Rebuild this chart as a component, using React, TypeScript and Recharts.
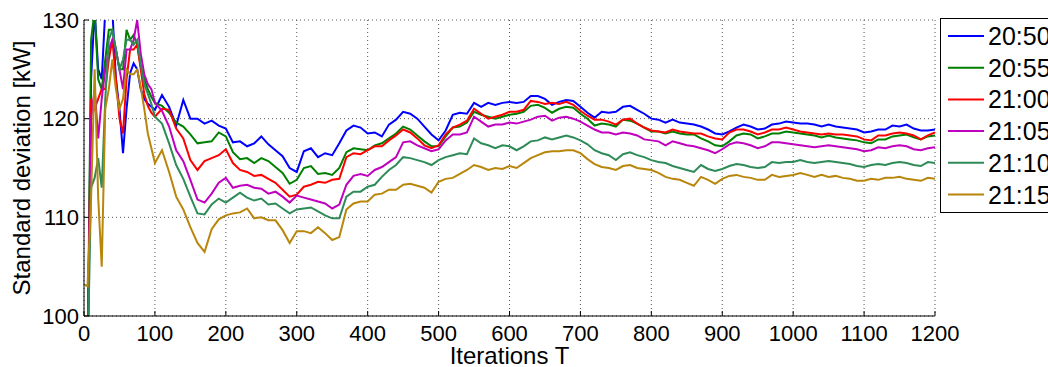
import { LineChart, Line, XAxis, YAxis, CartesianGrid } from "recharts";

// iteration index for every sample (denser at the start, where the curves jump)
const iters = [
  0, 5, 10, 15, 20, 25, 30, 35, 40, 45, 50, 55, 60, 65, 70, 75, 80, 85, 90, 95, 100,
  110, 120, 130, 140, 150, 160, 170, 180, 190, 200,
  210, 220, 230, 240, 250, 260, 270, 280, 290, 300,
  310, 320, 330, 340, 350, 360, 370, 380, 390, 400,
  410, 420, 430, 440, 450, 460, 470, 480, 490, 500,
  510, 520, 530, 540, 550, 560, 570, 580, 590, 600,
  610, 620, 630, 640, 650, 660, 670, 680, 690, 700,
  710, 720, 730, 740, 750, 760, 770, 780, 790, 800,
  810, 820, 830, 840, 850, 860, 870, 880, 890, 900,
  910, 920, 930, 940, 950, 960, 970, 980, 990, 1000,
  1010, 1020, 1030, 1040, 1050, 1060, 1070, 1080, 1090, 1100,
  1110, 1120, 1130, 1140, 1150, 1160, 1170, 1180, 1190, 1200,
];

const s2050 = [
  95, 95, 124, 131, 125, 124, 131, 131, 131, 124, 121, 116.5, 121, 124.6, 125.6, 125, 123, 122, 121.5, 121.2, 120.9,
  122.4, 121.2, 119.3, 121.9, 120.0, 120.0, 119.5, 119.8, 119.3, 119.0,
  117.6, 117.7, 117.2, 117.5, 118.2, 117.4, 116.8, 116.2, 115.0, 114.6,
  116.7, 117.0, 116.1, 116.5, 116.3, 117.5, 118.8, 119.3, 119.1, 118.5,
  118.6, 118.2, 119.4, 119.9, 120.7, 120.5, 120.0, 119.2, 118.4, 117.8,
  118.8, 120.4, 120.6, 120.5, 121.6, 121.2, 121.6, 121.4, 121.6, 121.7,
  121.6, 121.7, 122.3, 122.3, 122.0, 121.4, 121.7, 121.9, 121.8, 121.2,
  120.6, 120.1, 120.7, 120.6, 120.7, 121.2, 121.3, 120.9, 120.5, 120.0,
  119.9, 119.6, 119.9, 119.6, 119.5, 119.4, 119.2, 118.9, 118.5, 118.4,
  118.7, 119.1, 119.4, 119.2, 118.9, 119.0, 119.4, 119.5, 119.7, 119.6,
  119.5, 119.5, 119.4, 119.2, 119.4, 119.2, 119.1, 119.0, 118.9, 118.6,
  118.7, 118.9, 118.9, 119.3, 119.2, 119.4, 119.0, 118.8, 118.8, 118.9,
];

const s2055 = [
  95, 95, 128, 131, 124, 123, 126, 129, 129, 127, 125, 125, 129, 128, 128.5, 127.5, 125.3, 124, 123, 122.2, 121.6,
  121.3, 120.6, 119.6, 119.2, 118.4, 117.5, 117.6, 117.7, 118.6, 118.2,
  116.6, 115.9, 116.0, 115.5, 116.0, 115.7, 115.1, 114.5, 113.4, 113.8,
  115.0, 115.2, 114.4, 114.5, 114.3, 115.0, 116.6, 117.0, 116.9, 116.8,
  117.3, 117.5, 118.0, 118.5, 119.2, 118.9, 118.3, 117.7, 117.2, 117.2,
  118.2, 119.1, 119.2, 119.6, 120.7, 120.4, 120.2, 120.0, 120.2, 120.4,
  120.5, 120.7, 121.3, 121.4, 121.1, 120.6, 121.0, 121.2, 121.1, 120.5,
  120.0, 119.3, 119.5, 119.4, 119.2, 119.9, 119.8, 119.5, 119.1, 118.7,
  118.7, 118.5, 118.7, 118.5, 118.4, 118.4, 118.0, 117.7, 117.3, 117.2,
  117.7, 118.3, 118.5, 118.4, 118.0, 118.2, 118.5, 118.5, 118.7, 118.6,
  118.5, 118.4, 118.3, 118.1, 118.3, 118.1, 118.0, 117.9, 117.8, 117.6,
  117.5, 117.9, 117.9, 118.2, 118.3, 118.4, 118.1, 117.9, 118.2, 118.3,
];

const s2100 = [
  95, 95, 122, 121, 122, 123, 123, 126, 128, 124, 120, 118.5, 124, 127, 127, 127.5, 125, 122.5, 121.3, 120.6, 120.2,
  121.0, 120.9, 119.0, 118.0, 115.8, 114.8, 115.7, 116.0, 116.3, 116.9,
  115.5, 114.8, 114.6, 114.2, 114.3, 113.9, 113.5, 112.8, 112.1, 112.3,
  113.1, 113.3, 113.6, 113.5, 113.8, 113.9, 116.1, 116.5, 116.4, 116.8,
  117.2, 117.2, 117.8, 118.3, 118.9, 118.6, 118.0, 117.3, 117.0, 117.3,
  118.4, 119.1, 119.4, 119.8, 121.0, 120.5, 120.0, 120.2, 120.4, 120.7,
  120.7, 120.9, 121.8, 121.7, 121.5, 121.6, 121.5, 121.7, 121.4, 120.8,
  120.3, 119.9, 119.9, 119.7, 119.4, 119.9, 120.0, 119.5, 119.1, 118.8,
  118.7, 118.6, 118.9, 118.7, 118.6, 118.5, 118.5, 118.2, 118.0, 117.9,
  118.6, 118.9, 118.9, 118.7, 118.4, 118.6, 118.9, 118.9, 119.1, 118.9,
  118.7, 118.6, 118.5, 118.4, 118.5, 118.4, 118.4, 118.3, 118.2, 117.9,
  117.8, 118.3, 118.3, 118.5, 118.6, 118.5, 118.3, 117.9, 118.3, 118.6,
];

const s2105 = [
  95, 95, 120, 123, 118, 122, 125, 127, 128, 127, 125, 123, 127, 127, 128, 130, 126.6, 124.5, 123.5, 123, 121.6,
  120.8, 119.2, 116.8, 115.7, 113.8, 111.8, 111.5, 112.4, 113.5, 114.0,
  113.0, 113.2, 113.3, 113.0, 112.9, 112.4, 112.6, 112.1, 111.5, 112.2,
  112.0, 111.8, 111.6, 111.4, 110.9, 111.3, 113.3, 114.2, 114.4, 114.2,
  114.8, 115.1, 115.6, 116.1, 117.6, 117.7, 117.3, 117.0, 116.7, 116.9,
  117.8, 118.4, 118.4, 118.6, 120.2, 119.7, 119.2, 119.4, 119.4, 119.6,
  119.5, 119.7, 119.9, 120.2, 120.3, 119.8, 120.1, 120.2, 120.0, 119.7,
  119.3, 118.9, 118.6, 118.6, 118.4, 118.6, 118.5, 118.3, 117.9, 117.8,
  117.7, 117.3, 117.7, 117.5, 117.3, 117.2, 117.0, 116.8, 116.5, 116.9,
  117.4, 117.6, 117.5, 117.3, 117.0, 117.2, 117.6, 117.6, 117.5, 117.4,
  117.3, 117.2, 117.1, 117.2, 117.3, 117.2, 117.1, 117.0, 116.9, 116.7,
  116.8, 117.1, 117.0, 117.2, 117.3, 117.2, 116.9, 116.8, 117.0, 117.1,
];

const s2110 = [
  95, 95, 113, 114, 116, 113, 122, 128, 129, 127, 125, 126, 128, 128, 127.5, 128, 125.5, 123.5, 122.5, 121.5, 120.2,
  119.5, 117.5, 115.3, 113.9, 112.1, 110.4, 110.3, 111.3, 111.9, 111.5,
  112.0, 112.5, 112.0, 111.7, 111.9, 111.3, 111.4, 110.9, 110.4, 110.8,
  110.9, 111.0, 110.6, 110.2, 109.9, 109.9, 112.1, 112.6, 112.6, 113.1,
  113.3, 114.1, 114.8, 115.3, 116.1, 116.0, 115.8, 115.6, 115.3, 115.8,
  116.1, 116.3, 116.5, 116.4, 118.0, 117.5, 117.3, 117.0, 117.3, 117.2,
  116.8, 117.2, 117.7, 117.8, 118.1, 117.9, 118.1, 118.3, 118.1, 117.8,
  117.4, 116.8, 116.5, 116.3, 115.8, 116.4, 116.6, 116.3, 116.1, 115.8,
  115.6, 115.5, 115.2, 115.0, 114.8, 114.6, 115.3, 114.9, 114.7, 114.9,
  115.2, 115.4, 115.3, 115.1, 115.0, 115.1, 115.6, 115.5, 115.6, 115.6,
  115.8, 115.6, 115.5, 115.6, 115.7, 115.6, 115.5, 115.4, 115.2, 115.1,
  115.3, 115.4, 115.3, 115.5, 115.6, 115.5, 115.3, 115.2, 115.6, 115.5,
];

const s2115 = [
  103.2, 103, 112, 125, 112, 105, 121, 123, 126, 123, 121, 122, 125, 124.5, 124.5, 125, 123.2, 121, 118.5, 117, 115.5,
  116.8, 114.6, 112.1, 110.8, 109.0, 107.4, 106.5, 108.8, 109.8, 110.2,
  110.4, 110.5, 110.9, 109.9, 110.0, 109.7, 109.7, 108.7, 107.4, 108.6,
  108.6, 108.4, 109.0, 108.4, 107.7, 108.0, 110.8, 111.4, 111.6, 111.6,
  112.3, 112.4, 112.8, 112.8, 113.3, 113.4, 113.2, 113.0, 112.5, 113.6,
  113.9, 114.0, 114.4, 114.8, 115.3, 115.1, 114.8, 115.0, 114.9, 115.2,
  115.0, 115.5, 116.0, 116.3, 116.6, 116.7, 116.7, 116.8, 116.8, 116.5,
  115.9, 115.4, 115.1, 115.0, 114.8, 115.2, 115.3, 115.0, 114.9, 114.8,
  114.5, 114.1, 113.9, 113.8, 113.5, 113.2, 114.1, 113.8, 113.4, 113.9,
  114.2, 114.3, 114.1, 114.0, 113.8, 113.8, 114.3, 114.1, 114.2, 114.3,
  114.5, 114.3, 114.1, 114.3, 114.1, 114.2, 114.0, 113.9, 113.7, 113.7,
  113.9, 113.8, 114.0, 114.0, 114.1, 113.9, 113.8, 113.7, 114.0, 113.9,
];

const series = [
  { key: "t2050", label: "20:50", values: s2050, color: "#0000ff" },
  { key: "t2055", label: "20:55", values: s2055, color: "#008000" },
  { key: "t2100", label: "21:00", values: s2100, color: "#ff0000" },
  { key: "t2105", label: "21:05", values: s2105, color: "#bf00bf" },
  { key: "t2110", label: "21:10", values: s2110, color: "#2e8b57" },
  { key: "t2115", label: "21:15", values: s2115, color: "#b8860b" },
];

const xTicks = [0, 100, 200, 300, 400, 500, 600, 700, 800, 900, 1000, 1100, 1200];
const yTicks = [100, 110, 120, 130];

const rows = iters.map((it, i) => {
  const row: Record<string, number> = { it };
  series.forEach(s => { row[s.key] = s.values[i]; });
  return row;
});

const FONT = '"Liberation Sans", Arial, Helvetica, sans-serif';

const XLabel = () => (
  <text x={509.5} y={364} textAnchor="middle" fontSize={24} fill="#000" fontFamily={FONT}>
    Iterations T
  </text>
);

const YLabel = () => (
  <text x={30} y={168} transform="rotate(-90 30 168)" textAnchor="middle" fontSize={24} fill="#000" fontFamily={FONT}>
    Standard deviation [kW]
  </text>
);

export default function App() {
  const tickStyle = { fill: "#000", fontSize: 22, fontFamily: FONT };
  return (
    <div style={{ position: "fixed", left: 0, top: 0, width: 1048, height: 367, overflow: "hidden", background: "#fff", fontFamily: FONT }}>
      <LineChart width={1048} height={367} data={rows} margin={{ top: 20, right: 113, bottom: 0, left: 0 }}>
        <CartesianGrid stroke="#555" strokeDasharray="1 3" strokeWidth={1} />
        <XAxis
          dataKey="it" type="number" domain={[0, 1200]} ticks={xTicks} interval={0}
          allowDataOverflow height={51} tickSize={-5} tickMargin={14}
          stroke="#000" tick={tickStyle} label={<XLabel />}
        />
        <XAxis
          xAxisId="top" orientation="top" dataKey="it" type="number" domain={[0, 1200]} ticks={xTicks}
          interval={0} allowDataOverflow height={0} tickSize={-5} tick={false} stroke="#000"
        />
        <YAxis
          type="number" domain={[100, 130]} ticks={yTicks} interval={0} allowDataOverflow
          width={84} tickSize={-5} tickMargin={10} stroke="#000" tick={tickStyle} label={<YLabel />}
        />
        <YAxis
          yAxisId="right" orientation="right" type="number" domain={[100, 130]} ticks={yTicks}
          interval={0} allowDataOverflow width={0} tickSize={-5} tick={false} stroke="#000"
        />
        {series.map(s => (
          <Line
            key={s.key} type="linear" dataKey={s.key} stroke={s.color} strokeWidth={2}
            dot={false} activeDot={false} isAnimationActive={false}
          />
        ))}
      </LineChart>

      {/* Legend box, cut off by the right edge like the original */}
      <svg width={1048} height={367} style={{ position: "absolute", left: 0, top: 0, pointerEvents: "none" }}>
        <rect x={940.5} y={18.5} width={120} height={194} fill="#fff" stroke="#000" strokeWidth={1} />
        {series.map((s, i) => {
          const cy = 36 + i * 31.7;
          return (
            <g key={s.key}>
              <line x1={948} x2={984} y1={cy} y2={cy} stroke={s.color} strokeWidth={2} />
              <text x={988} y={cy + 9} fontSize={25} fill="#000" fontFamily={FONT}>{s.label}</text>
            </g>
          );
        })}
      </svg>
    </div>
  );
}
